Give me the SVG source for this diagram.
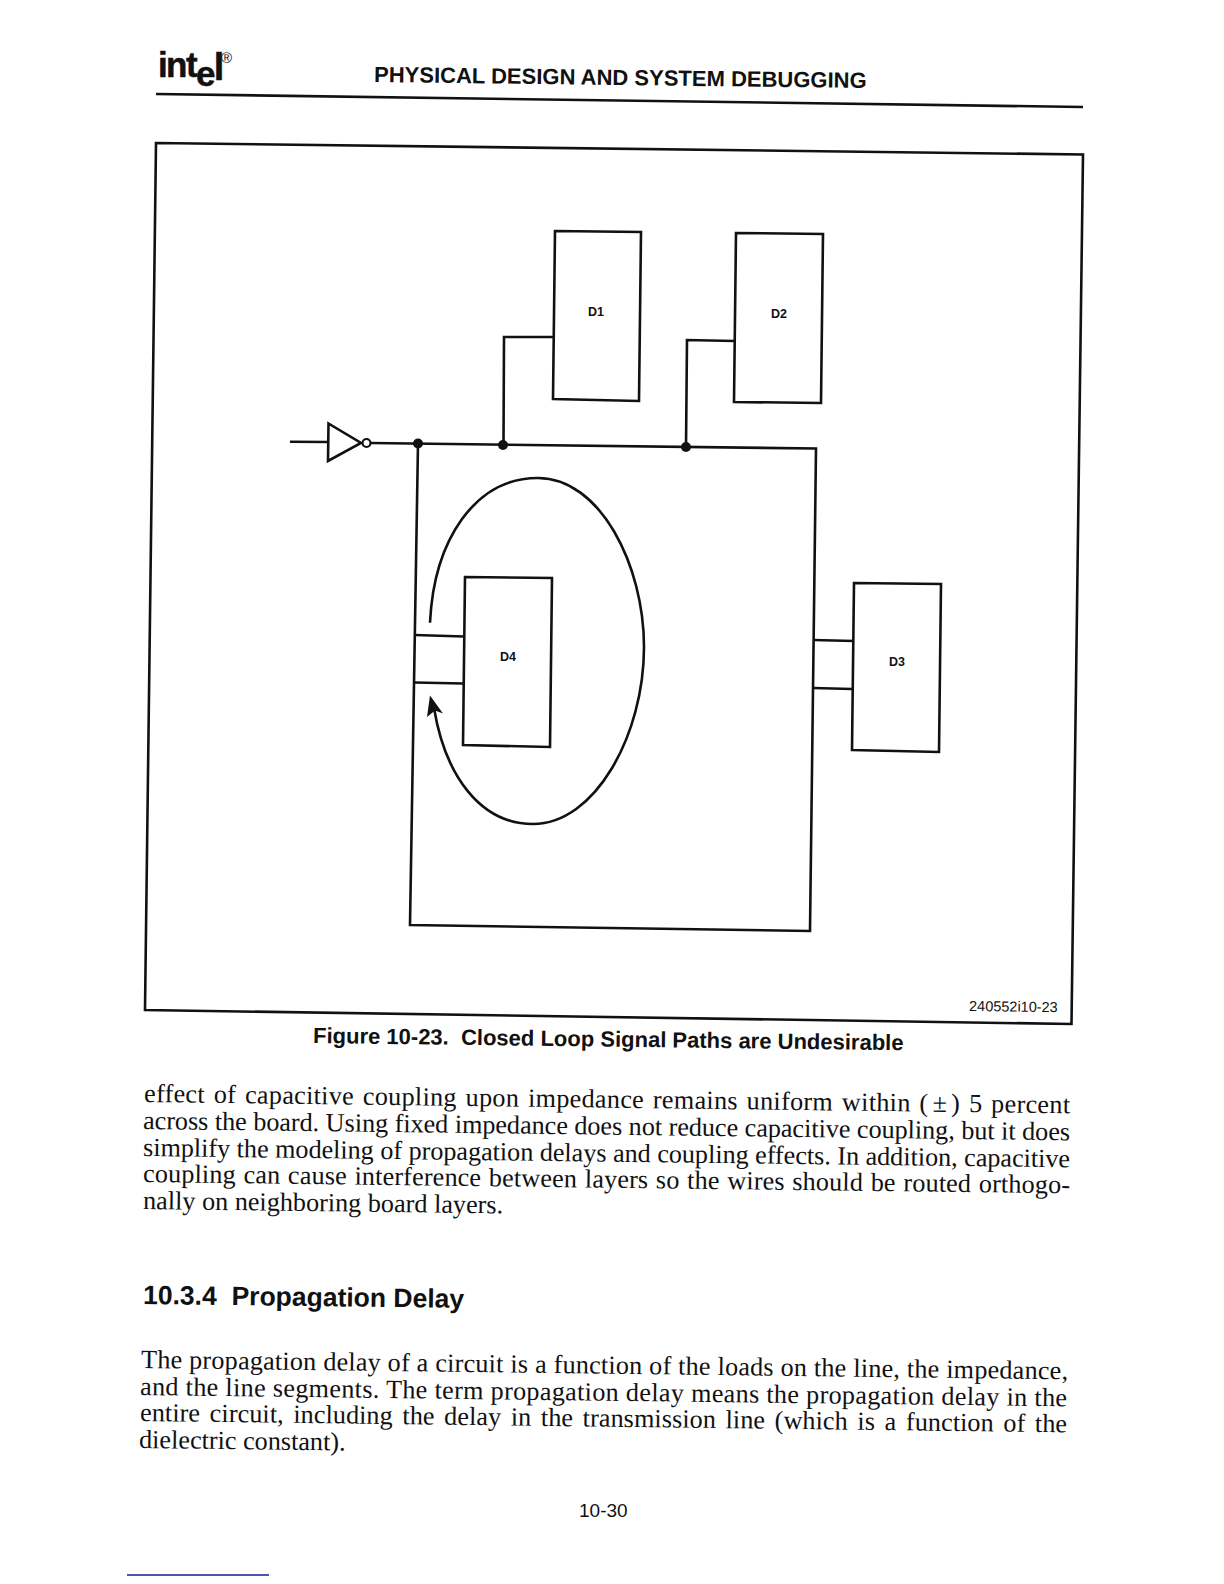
<svg xmlns="http://www.w3.org/2000/svg" width="1224" height="1584" viewBox="0 0 1224 1584">
<style>
.ln{fill:none;stroke:#111;stroke-width:2.6;stroke-linejoin:miter}
.box{fill:none;stroke:#111;stroke-width:2.6}
.dot{fill:#111;stroke:none}
.lb{font:bold 12.5px "Liberation Sans",Arial,sans-serif;fill:#111;text-anchor:middle}
.h{font:bold 22px "Liberation Sans",Arial,sans-serif;fill:#111}
.cap{font:bold 22px "Liberation Sans",Arial,sans-serif;fill:#111;white-space:pre}
.b{font:26.2px "Liberation Serif","Times New Roman",serif;fill:#111}
.logo{font-family:"Liberation Sans",Arial,sans-serif;font-weight:bold;fill:#111;stroke:#111;stroke-width:.5}
</style>
<rect width="1224" height="1584" fill="#fff"/>
<g id="header">
<text class="logo" x="158" y="77" font-size="35" letter-spacing="-1.6">int<tspan dy="8.5">e</tspan><tspan dy="-5.5" font-size="38">l</tspan></text>
<text x="221" y="63" style="font:15px 'Liberation Sans',Arial,sans-serif" fill="#111">®</text>
<text class="h" x="374" y="82" transform="rotate(0.7 374 82)">PHYSICAL DESIGN AND SYSTEM DEBUGGING</text>
<path d="M156 94 L1083 107" fill="none" stroke="#111" stroke-width="2.6"/>
</g>
<path id="frame" class="ln" d="M156 143 L1083 154.5 L1071.5 1024 L145 1010 Z"/>
<g id="connectors">
<path class="ln" d="M290 441.7 L328 442 M370.5 443 L816 448.5 L810 931 L410 925 L418 443.5"/>
<path class="ln" d="M503.5 445 L504 337 L554 337 M686 447 L687 340 L735 341"/>
<path class="ln" d="M415 635 L464 636.5 M414.5 682.5 L463 683.5 M813 640 L854 641 M813 688 L852 689"/>
<path class="ln" d="M430 622.7 C434 540 475 478 538 478 C600 478 644 565 644 647 C644 735 595 824 533 824 C480 824 445 775 434 708"/>
<path class="dot" d="M430 695.5 L443 713.5 L435 710.5 L427 717 Z"/>
<circle class="dot" cx="418" cy="443.5" r="5"/>
<circle class="dot" cx="503" cy="445" r="5"/>
<circle class="dot" cx="686" cy="447" r="5"/>
</g>
<g id="inverter">
<path class="ln" d="M328.5 423.5 L361 443 L328 461 Z"/>
<circle cx="366.5" cy="443" r="4" fill="#fff" stroke="#111" stroke-width="2.2"/>
</g>
<g id="D1"><path class="box" d="M555 231 L641 232 L639 401 L553 399 Z"/><text class="lb" x="596" y="316">D1</text></g>
<g id="D2"><path class="box" d="M736 233 L823 234 L821 403 L734 402 Z"/><text class="lb" x="779" y="318">D2</text></g>
<g id="D3"><path class="box" d="M854 583 L941 584 L939 752 L852 750 Z"/><text class="lb" x="897" y="666">D3</text></g>
<g id="D4"><path class="box" d="M465 577 L552 578 L550 747 L463 745 Z"/><text class="lb" x="508" y="661">D4</text></g>
<text x="969" y="1011" transform="rotate(0.7 969 1011)" style="font:14.5px 'Liberation Sans',Arial,sans-serif" fill="#111">240552i10-23</text>
<text class="cap" x="313" y="1043" transform="rotate(0.7 313 1043)">Figure 10-23.  Closed Loop Signal Paths are Undesirable</text>
<g id="body1">
<text class="b" x="144" y="1102" textLength="926" word-spacing="2" transform="rotate(0.7 144 1102)">effect of capacitive coupling upon impedance remains uniform within (<tspan dx="4">±</tspan><tspan dx="4">)</tspan> 5 percent</text>
<text class="b" x="143" y="1129" textLength="927" transform="rotate(0.7 143 1129)">across the board. Using fixed impedance does not reduce capacitive coupling, but it does</text>
<text class="b" x="143" y="1156" textLength="927" transform="rotate(0.7 143 1156)">simplify the modeling of propagation delays and coupling effects. In addition, capacitive</text>
<text class="b" x="143" y="1182" textLength="927" word-spacing="1" transform="rotate(0.7 143 1182)">coupling can cause interference between layers so the wires should be routed orthogo-</text>
<text class="b" x="143" y="1209" transform="rotate(0.7 143 1209)">nally on neighboring board layers.</text>
</g>
<text x="143" y="1304" transform="rotate(0.7 143 1304)" style="font:bold 26.5px 'Liberation Sans',Arial,sans-serif;white-space:pre" fill="#111">10.3.4  Propagation Delay</text>
<g id="body2">
<text class="b" x="141" y="1368" textLength="927" transform="rotate(0.7 141 1368)">The propagation delay of a circuit is a function of the loads on the line, the impedance,</text>
<text class="b" x="140" y="1395" textLength="927" transform="rotate(0.7 140 1395)">and the line segments. The term propagation delay means the propagation delay in the</text>
<text class="b" x="140" y="1421" textLength="927" word-spacing="3" transform="rotate(0.7 140 1421)">entire circuit, including the delay in the transmission line (which is a function of the</text>
<text class="b" x="139" y="1448" transform="rotate(0.7 139 1448)">dielectric constant).</text>
</g>
<text x="579" y="1517" style="font:19px 'Liberation Sans',Arial,sans-serif" fill="#111">10-30</text>
<path d="M127 1575 H269" stroke="#1a1a9a" stroke-width="1.3" fill="none"/>
</svg>
